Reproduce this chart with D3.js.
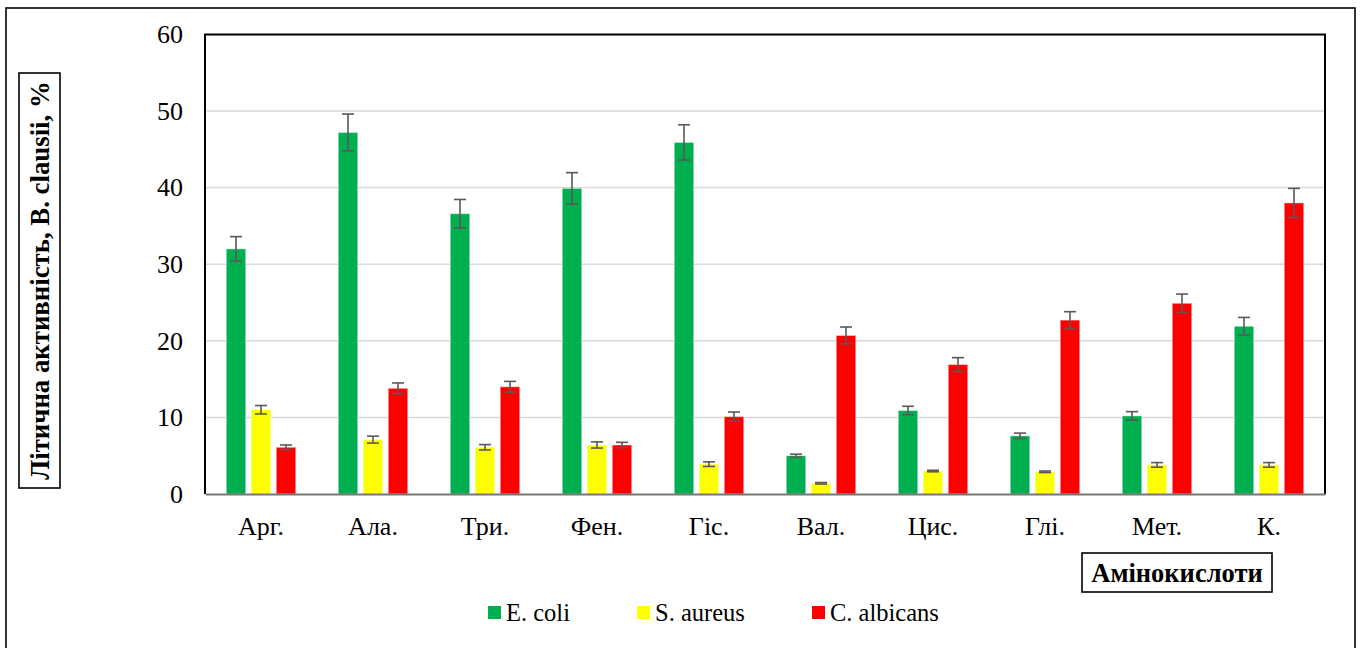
<!DOCTYPE html>
<html>
<head>
<meta charset="utf-8">
<script src="https://cdn.jsdelivr.net/npm/d3@7"></script>
<style>
  html, body { margin: 0; padding: 0; background: #fff; }
  svg { display: block; }
  svg text { font-family: "Liberation Serif", "Times New Roman", Times, serif; }
</style>
</head>
<body>
<svg id="chart" width="1363" height="648"></svg>
<script>
// Amino acids (x categories)
const categories = ["Арг.", "Ала.", "Три.", "Фен.", "Гіс.", "Вал.", "Цис.", "Глі.", "Мет.", "К."];

// Series: lytic activity of B. clausii, % (means and error half-widths)
const seriesNames = ["E. coli", "S. aureus", "C. albicans"];
const eColi        = [32.0, 47.2, 36.6, 39.9, 45.9, 5.0, 10.9, 7.6, 10.2, 21.9];
const eColiErr     = [1.6, 2.4, 1.85, 2.05, 2.3, 0.2, 0.55, 0.35, 0.55, 1.15];
const sAureus      = [11.0, 7.1, 6.1, 6.4, 3.9, 1.4, 3.0, 2.9, 3.8, 3.8];
const sAureusErr   = [0.55, 0.45, 0.35, 0.4, 0.3, 0.1, 0.1, 0.1, 0.3, 0.3];
const cAlbicans    = [6.1, 13.8, 14.0, 6.4, 10.1, 20.7, 16.9, 22.7, 24.9, 38.0];
const cAlbicansErr = [0.3, 0.7, 0.7, 0.35, 0.6, 1.1, 0.9, 1.1, 1.2, 1.9];

const yTicks = [0, 10, 20, 30, 40, 50, 60];
const yTitle = "Літична активність, B. clausii, %";
const xTitle = "Амінокислоти";

const colors = ["#00B050", "#FFFF00", "#FF0000"];
const values = [eColi, sAureus, cAlbicans];
const errors = [eColiErr, sAureusErr, cAlbicansErr];

const FONT = '"Liberation Serif", "Times New Roman", Times, serif';

const svg = d3.select("#chart");

// Outer chart frame
svg.append("rect")
  .attr("x", 6).attr("y", 8).attr("width", 1349).attr("height", 700)
  .attr("fill", "none").attr("stroke", "#000").attr("stroke-width", 1.6);

const plot = { left: 205, right: 1325, top: 34.4, bottom: 494 };

const x0 = d3.scaleBand().domain(categories).range([plot.left, plot.right]);
const x1 = d3.scaleBand().domain(seriesNames).range([-37.5, 37.5])
  .paddingInner(0.22).paddingOuter(0.11);
const y = d3.scaleLinear().domain([0, 60]).range([plot.bottom, plot.top]);

// Gridlines
svg.append("g").selectAll("line")
  .data(yTicks.filter(t => t > 0 && t < 60))
  .join("line")
  .attr("x1", plot.left).attr("x2", plot.right)
  .attr("y1", d => y(d)).attr("y2", d => y(d))
  .attr("stroke", "#d9d9d9").attr("stroke-width", 1.5);

// Y tick labels
const yAxis = d3.axisLeft(y).tickValues(yTicks).tickSize(0).tickPadding(22);
const gy = svg.append("g").attr("transform", `translate(${plot.left},0)`).call(yAxis)
  .attr("font-family", FONT).attr("font-size", 26);
gy.select(".domain").remove();
gy.selectAll("text").attr("fill", "#000");

// Bars
const rows = categories.map((c, i) => seriesNames.map((s, k) => ({
  cat: c, series: s, k, v: values[k][i], e: errors[k][i]
})));

const groups = svg.append("g").selectAll("g")
  .data(rows).join("g")
  .attr("transform", d => `translate(${x0(d[0].cat) + x0.bandwidth() / 2},0)`);

groups.selectAll("rect")
  .data(d => d).join("rect")
  .attr("x", d => x1(d.series))
  .attr("width", x1.bandwidth())
  .attr("y", d => y(d.v))
  .attr("height", d => y(0) - y(d.v))
  .attr("fill", d => colors[d.k])
  .attr("stroke", "#ffffff").attr("stroke-opacity", 0.45).attr("stroke-width", 1);

// Error bars
const capW = 6;
const eb = groups.selectAll("g.err").data(d => d).join("g").attr("class", "err")
  .attr("stroke", "#595959").attr("stroke-width", 1.6);
eb.append("line")
  .attr("x1", d => x1(d.series) + x1.bandwidth() / 2)
  .attr("x2", d => x1(d.series) + x1.bandwidth() / 2)
  .attr("y1", d => y(d.v + d.e)).attr("y2", d => y(d.v - d.e));
eb.append("line")
  .attr("x1", d => x1(d.series) + x1.bandwidth() / 2 - capW)
  .attr("x2", d => x1(d.series) + x1.bandwidth() / 2 + capW)
  .attr("y1", d => y(d.v + d.e)).attr("y2", d => y(d.v + d.e));
eb.append("line")
  .attr("x1", d => x1(d.series) + x1.bandwidth() / 2 - capW)
  .attr("x2", d => x1(d.series) + x1.bandwidth() / 2 + capW)
  .attr("y1", d => y(d.v - d.e)).attr("y2", d => y(d.v - d.e));

// Plot frame: black top/left/right, grey category axis line
svg.append("path")
  .attr("d", `M${plot.left},${plot.bottom} V${plot.top} H${plot.right} V${plot.bottom}`)
  .attr("fill", "none").attr("stroke", "#000").attr("stroke-width", 2);
const xAxis = d3.axisBottom(x0).tickSize(0).tickPadding(23);
const gx = svg.append("g").attr("transform", `translate(0,${plot.bottom})`).call(xAxis)
  .attr("font-family", FONT).attr("font-size", 26);
gx.select(".domain").attr("stroke", "#767676").attr("stroke-width", 2);
gx.selectAll("text").attr("fill", "#000");

// Y axis title in a box
svg.append("rect")
  .attr("x", 19).attr("y", 73).attr("width", 41).attr("height", 415)
  .attr("fill", "#fff").attr("stroke", "#000").attr("stroke-width", 1.6);
svg.append("text")
  .attr("transform", "translate(40,280.5) rotate(-90)")
  .attr("text-anchor", "middle").attr("dominant-baseline", "central")
  .attr("font-size", 26.8).attr("font-weight", "bold")
  .text(yTitle);

// X axis title in a box
svg.append("rect")
  .attr("x", 1082).attr("y", 553).attr("width", 190).attr("height", 39)
  .attr("fill", "#fff").attr("stroke", "#000").attr("stroke-width", 1.6);
svg.append("text")
  .attr("x", 1177).attr("y", 573)
  .attr("text-anchor", "middle").attr("dominant-baseline", "central")
  .attr("font-size", 26.5).attr("font-weight", "bold")
  .text(xTitle);

// Legend
const legendX = [488, 637, 812];
const lg = svg.append("g").selectAll("g").data(seriesNames).join("g")
  .attr("transform", (d, i) => `translate(${legendX[i]},0)`);
lg.append("rect").attr("x", 0).attr("y", 606).attr("width", 13).attr("height", 13)
  .attr("fill", (d, i) => colors[i]);
lg.append("text").attr("x", 18).attr("y", 621)
  .attr("font-size", 24.5).text(d => d);
</script>
</body>
</html>
